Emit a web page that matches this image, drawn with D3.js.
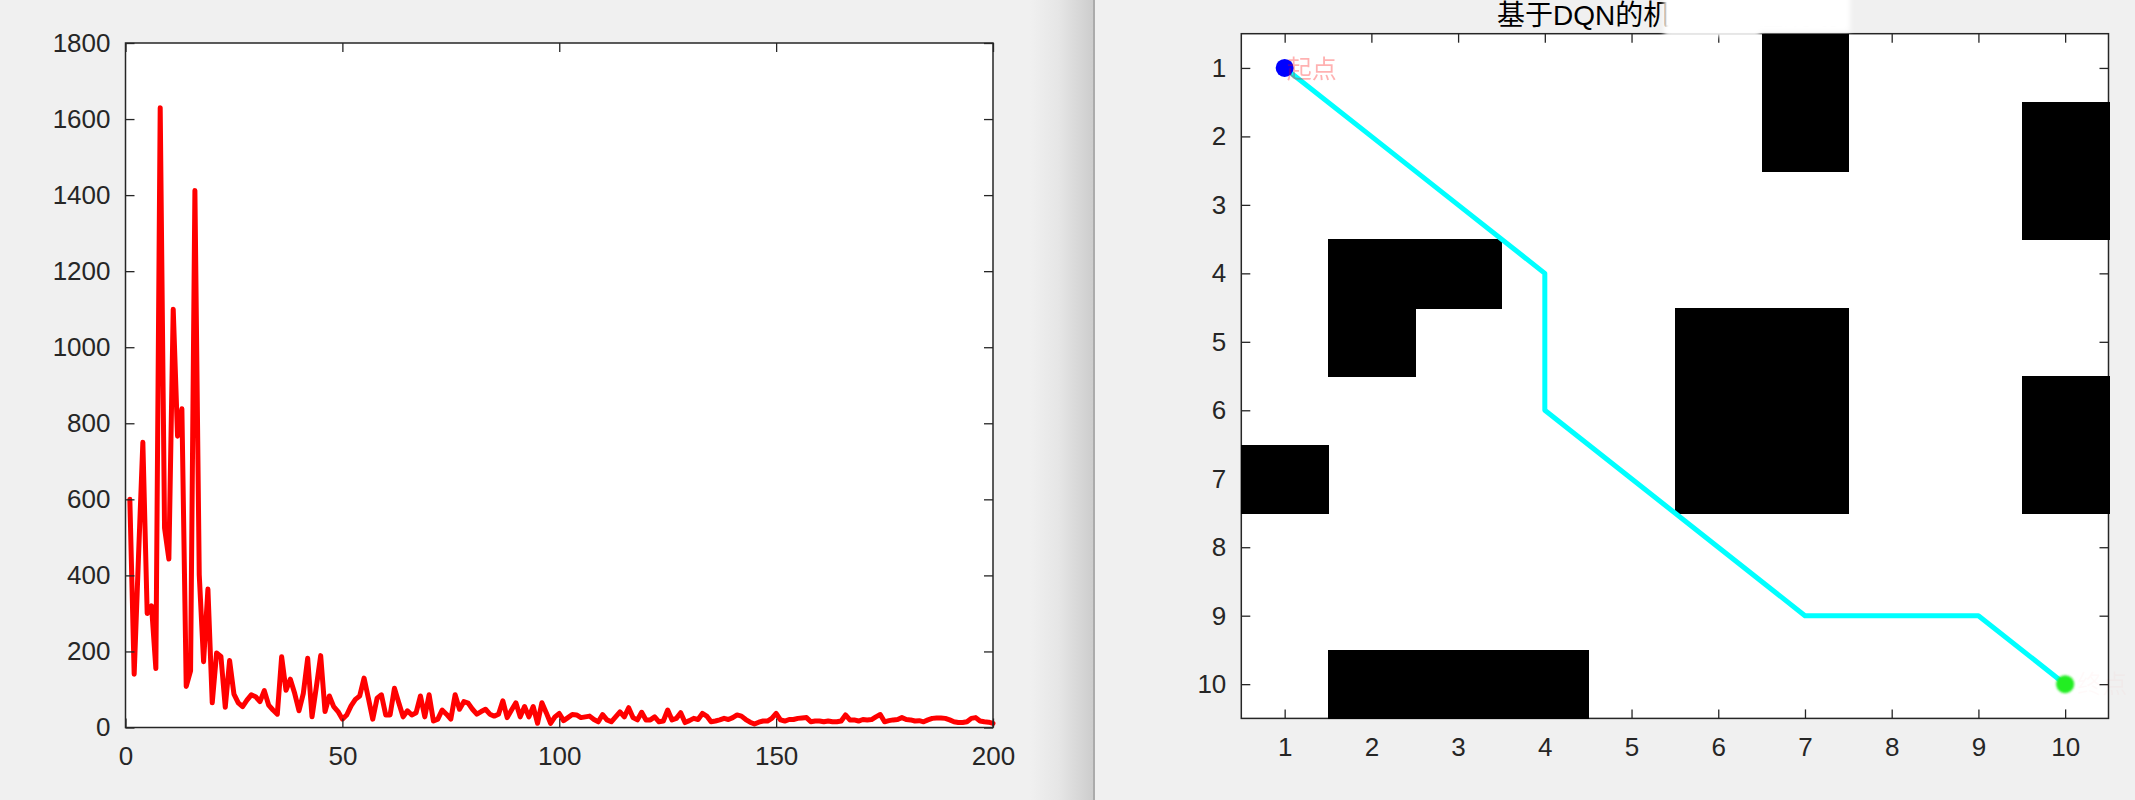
<!DOCTYPE html>
<html>
<head>
<meta charset="utf-8">
<script src="https://cdn.jsdelivr.net/npm/d3@7"></script>
<style>
  body { margin: 0; background: #f0f0f0; }
  svg { display: block; }
  text { font-family: "Liberation Sans", Arial, "Noto Sans CJK SC", sans-serif; }
</style>
</head>
<body>
<svg id="fig" width="2135" height="800"></svg>
<script>
// loss per episode (left figure)
var lossValues = [
  600,140,450,750,300,320,155,1630,525,443, 1100,766,838,108,149,1412,402,173,364,65,
  196,187,53,176,88,65,55,72,86,81, 68,97,59,46,35,186,98,127,90,44,
  90,182,28,107,189,42,83,55,42,22, 33,57,74,83,130,77,22,77,86,33,
  33,103,65,28,44,33,39,83,28,86, 17,22,46,35,22,86,48,68,64,48,
  35,42,48,35,30,35,70,26,46,65, 28,55,28,55,11,65,39,11,28,37,
  18,26,34,33,26,28,30,21,15,34, 20,15,28,41,28,52,26,20,40,20,
  20,28,15,17,46,20,24,39,13,18, 24,21,37,30,15,17,20,24,21,26,
  33,30,21,14,9,14,17,17,24,37, 20,17,21,21,24,25,26,15,17,17,
  15,17,15,15,17,33,20,20,17,21, 20,21,28,34,15,18,20,21,26,21,
  20,17,18,15,20,24,25,25,24,20, 15,13,13,15,24,26,17,15,14,11
];
var lossXTicks = [0, 50, 100, 150, 200];
var lossYTicks = [0, 200, 400, 600, 800, 1000, 1200, 1400, 1600, 1800];

// grid map (right figure): obstacle cells [col,row], path cells [col,row]
var obstacles = [
  [7,1],[7,2],[10,2],[10,3],[2,4],[3,4],[2,5],
  [6,5],[7,5],[6,6],[7,6],[6,7],[7,7],[10,6],[10,7],[1,7],
  [2,10],[3,10],[4,10]
];
var pathCells = [[1,1],[2,2],[3,3],[4,4],[4,5],[4,6],[5,7],[6,8],[7,9],[8,9],[9,9],[10,10]];
var startCell = [1,1], goalCell = [10,10];
var gridTicks = [1,2,3,4,5,6,7,8,9,10];
var mapTitle = "基于DQN的机器人路径规划";

var svg = d3.select("#fig");
var ink = "#262626";

// figure window edge shading
var defs = svg.append("defs");
var grad = defs.append("linearGradient").attr("id", "edge");
grad.append("stop").attr("offset", "0").attr("stop-color", "#f0f0f0");
grad.append("stop").attr("offset", "0.45").attr("stop-color", "#e6e6e6");
grad.append("stop").attr("offset", "1").attr("stop-color", "#cdcdcd");
defs.append("filter").attr("id", "smudge").attr("x", "-20%").attr("y", "-50%").attr("width", "140%").attr("height", "200%")
  .append("feGaussianBlur").attr("stdDeviation", 2.5);
defs.append("filter").attr("id", "soft")
  .append("feGaussianBlur").attr("stdDeviation", 1.2);

svg.append("rect").attr("x", 1030).attr("y", 0).attr("width", 63).attr("height", 800).attr("fill", "url(#edge)");
svg.append("rect").attr("x", 1093).attr("y", 0).attr("width", 2).attr("height", 800).attr("fill", "#ababab");

function styleAxis(g) {
  g.select(".domain").remove();
  g.selectAll(".tick line").attr("stroke", ink).attr("stroke-width", 1.3);
  g.selectAll(".tick text").attr("fill", ink).attr("font-size", "26px");
}

function frame(x0, x1, y0, y1, sx, sy, xt, yt) {
  var gb = svg.append("g").attr("transform", "translate(0," + y1 + ")")
    .call(d3.axisBottom(sx).tickValues(xt).tickSize(-9).tickPadding(19).tickFormat(d3.format("d")));
  styleAxis(gb);
  var gt = svg.append("g").attr("transform", "translate(0," + y0 + ")")
    .call(d3.axisTop(sx).tickValues(xt).tickSize(-9).tickFormat(""));
  styleAxis(gt);
  var gl = svg.append("g").attr("transform", "translate(" + x0 + ",0)")
    .call(d3.axisLeft(sy).tickValues(yt).tickSize(-9).tickPadding(15).tickFormat(d3.format("d")));
  styleAxis(gl);
  var gr = svg.append("g").attr("transform", "translate(" + x1 + ",0)")
    .call(d3.axisRight(sy).tickValues(yt).tickSize(-9).tickFormat(""));
  styleAxis(gr);
  svg.append("rect").attr("x", x0).attr("y", y0).attr("width", x1 - x0).attr("height", y1 - y0)
    .attr("fill", "none").attr("stroke", ink).attr("stroke-width", 1.5);
}

// ---- left: loss curve ----
var L = { x0: 125.5, x1: 993, y0: 43, y1: 727.5 };
var lx = d3.scaleLinear().domain([0, 200]).range([L.x0, L.x1]);
var ly = d3.scaleLinear().domain([0, 1800]).range([L.y1, L.y0]);
svg.append("rect").attr("x", L.x0).attr("y", L.y0).attr("width", L.x1 - L.x0).attr("height", L.y1 - L.y0).attr("fill", "#fff");
svg.append("path").datum(lossValues)
  .attr("d", d3.line().x(function(d, i) { return lx(i + 1); }).y(function(d) { return ly(d); }))
  .attr("fill", "none").attr("stroke", "#ff0000").attr("stroke-width", 5)
  .attr("stroke-linejoin", "round").attr("stroke-linecap", "round");
frame(L.x0, L.x1, L.y0, L.y1, lx, ly, lossXTicks, lossYTicks);

// ---- right: grid map with path ----
var R = { x0: 1241.3, x1: 2108.5, y0: 33.7, y1: 718.4 };
var gx = d3.scaleLinear().domain([0.5, 10.5]).range([R.x0, R.x1]);
var gy = d3.scaleLinear().domain([0.5, 10.5]).range([R.y0, R.y1]);
svg.append("rect").attr("x", R.x0).attr("y", R.y0).attr("width", R.x1 - R.x0).attr("height", R.y1 - R.y0).attr("fill", "#fff");

svg.append("text").attr("x", 1497).attr("y", 25).attr("font-size", "28px").attr("fill", "#000").text(mapTitle);
frame(R.x0, R.x1, R.y0, R.y1, gx, gy, gridTicks, gridTicks);

// washed-out patch over the title
svg.append("rect").attr("x", 1668).attr("y", -6).attr("width", 182).attr("height", 38).attr("fill", "#fff").attr("filter", "url(#smudge)");
svg.append("rect").attr("x", 1664).attr("y", -6).attr("width", 96).attr("height", 42).attr("fill", "#fff").attr("filter", "url(#smudge)");

svg.append("g").attr("shape-rendering", "crispEdges").selectAll("rect").data(obstacles).join("rect")
  .attr("x", function(d) { return gx(d[0] - 0.5); })
  .attr("y", function(d) { return gy(d[1] - 0.5); })
  .attr("width", gx(1.5) - gx(0.5) + 1)
  .attr("height", gy(1.5) - gy(0.5) + 1)
  .attr("fill", "#000");

svg.append("path").datum(pathCells)
  .attr("d", d3.line().x(function(d) { return gx(d[0]); }).y(function(d) { return gy(d[1]); }))
  .attr("fill", "none").attr("stroke", "#00ffff").attr("stroke-width", 5).attr("stroke-linejoin", "round");

svg.append("circle").attr("cx", gx(startCell[0])).attr("cy", gy(startCell[1])).attr("r", 9).attr("fill", "#0000ff");
svg.append("circle").attr("cx", gx(goalCell[0])).attr("cy", gy(goalCell[1])).attr("r", 9).attr("fill", "#22ee22").attr("filter", "url(#soft)");

svg.append("text").attr("x", gx(startCell[0]) + 2).attr("y", gy(startCell[1]) + 10)
  .attr("font-size", "25px").attr("fill", "#ff0000").attr("opacity", 0.3).text("起点");
svg.append("text").attr("x", gx(goalCell[0]) + 12).attr("y", gy(goalCell[1]) + 9)
  .attr("font-size", "25px").attr("fill", "#ff0000").attr("opacity", 0.02).text("终点");
</script>
</body>
</html>
